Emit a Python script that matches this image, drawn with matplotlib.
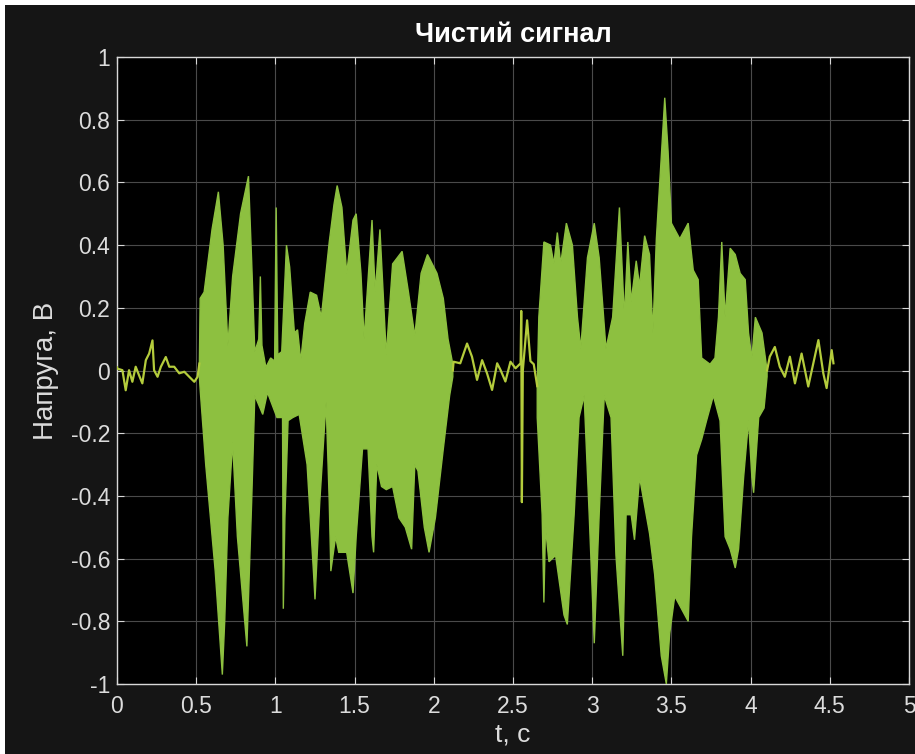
import numpy as np
import matplotlib.pyplot as plt
from matplotlib.patches import Rectangle

plt.rcParams['font.family'] = ['Liberation Sans', 'DejaVu Sans']

# quiet parts of the signal (plain line)
quiet1_t = [0.0, 0.002, 0.034, 0.055, 0.076, 0.097, 0.118, 0.139, 0.160, 0.182, 0.203, 0.224,
            0.234, 0.256, 0.277, 0.308, 0.330, 0.361, 0.393, 0.425, 0.456, 0.488, 0.509, 0.520]
quiet1_v = [0.01, 0.006, 0.001, -0.063, 0.001, -0.036, 0.012, -0.015, -0.041, 0.033, 0.054, 0.096,
            0.001, -0.020, 0.012, 0.043, 0.012, 0.012, -0.009, -0.004, -0.020, -0.036, -0.020, 0.022]

quiet2_t = [2.12, 2.125, 2.167, 2.210, 2.241, 2.273, 2.305, 2.336, 2.368, 2.400, 2.421, 2.452,
            2.484, 2.516, 2.548, 2.552, 2.556, 2.562, 2.589, 2.61, 2.631, 2.653]
quiet2_v = [0.0, 0.028, 0.023, 0.086, 0.044, -0.030, 0.033, -0.009, -0.062, 0.023, 0.002, -0.035,
            0.028, 0.007, 0.023, 0.19, -0.42, 0.0, 0.16, 0.03, 0.02, -0.05]

quiet3_t = [4.104, 4.121, 4.153, 4.184, 4.216, 4.248, 4.280, 4.322, 4.364, 4.396, 4.428, 4.459,
            4.480, 4.512, 4.523]
quiet3_v = [0.0, 0.044, 0.075, 0.012, -0.020, 0.044, -0.041, 0.054, -0.051, 0.023, 0.097, -0.009,
            -0.056, 0.065, 0.023]

# loud parts: upper and lower envelopes
b1_up_t = [0.52, 0.525, 0.55, 0.60, 0.64, 0.67, 0.70, 0.73, 0.78, 0.83, 0.85, 0.87, 0.895, 0.905,
           0.915, 0.94, 0.97, 0.995, 1.005, 1.015, 1.04, 1.07, 1.09, 1.12, 1.14, 1.16, 1.185, 1.22,
           1.26, 1.29, 1.34, 1.37, 1.39, 1.42, 1.45, 1.49, 1.51, 1.54, 1.56, 1.61, 1.63, 1.66, 1.70,
           1.74, 1.80, 1.84, 1.88, 1.92, 1.96, 2.02, 2.06, 2.09, 2.12]
b1_up_v = [0.02, 0.23, 0.25, 0.45, 0.57, 0.40, 0.08, 0.30, 0.50, 0.62, 0.35, 0.06, 0.10, 0.30,
           0.08, 0.01, 0.04, 0.03, 0.52, 0.05, 0.06, 0.40, 0.33, 0.12, 0.13, 0.03, 0.15, 0.25,
           0.24, 0.17, 0.41, 0.53, 0.59, 0.52, 0.31, 0.48, 0.50, 0.31, 0.10, 0.48, 0.25, 0.45, 0.05,
           0.34, 0.38, 0.25, 0.11, 0.31, 0.37, 0.31, 0.23, 0.10, 0.02]
b1_lo_t = [0.52, 0.525, 0.56, 0.62, 0.665, 0.68, 0.70, 0.73, 0.76, 0.82, 0.85, 0.87, 0.92, 0.95,
           1.01, 1.045, 1.05, 1.06, 1.08, 1.11, 1.15, 1.20, 1.24, 1.25, 1.28, 1.32, 1.34, 1.35, 1.38,
           1.40, 1.45, 1.49, 1.51, 1.55, 1.585, 1.61, 1.62, 1.64, 1.67, 1.70, 1.74, 1.78, 1.82, 1.86,
           1.88, 1.90, 1.94, 1.97, 2.01, 2.06, 2.10, 2.12]
b1_lo_v = [-0.02, -0.06, -0.30, -0.64, -0.97, -0.80, -0.47, -0.23, -0.53, -0.88, -0.42, -0.08, -0.14,
           -0.07, -0.15, -0.15, -0.76, -0.47, -0.16, -0.15, -0.14, -0.30, -0.64, -0.73, -0.42, -0.10,
           -0.42, -0.64, -0.53, -0.58, -0.58, -0.71, -0.53, -0.25, -0.25, -0.53, -0.58, -0.30, -0.37,
           -0.38, -0.37, -0.47, -0.50, -0.57, -0.30, -0.32, -0.50, -0.58, -0.47, -0.25, -0.08, -0.02]

b2_up_t = [2.653, 2.663, 2.695, 2.737, 2.758, 2.780, 2.801, 2.837, 2.875, 2.907, 2.928, 2.970,
           3.013, 3.044, 3.087, 3.129, 3.172, 3.203, 3.225, 3.246, 3.278, 3.299, 3.331, 3.362, 3.383,
           3.405, 3.436, 3.458, 3.479, 3.500, 3.553, 3.606, 3.638, 3.669, 3.691, 3.744, 3.775, 3.797,
           3.818, 3.839, 3.871, 3.903, 3.934, 3.966, 3.987, 4.008, 4.030, 4.072, 4.104]
b2_up_v = [-0.05, 0.17, 0.41, 0.40, 0.34, 0.44, 0.34, 0.47, 0.40, 0.17, 0.07, 0.36,
           0.47, 0.36, 0.07, 0.17, 0.52, 0.17, 0.41, 0.22, 0.35, 0.27, 0.43, 0.37, 0.12,
           0.42, 0.68, 0.87, 0.70, 0.47, 0.42, 0.47, 0.32, 0.29, 0.04, 0.02, 0.04, 0.17,
           0.41, 0.17, 0.39, 0.37, 0.31, 0.29, 0.12, 0.04, 0.17, 0.12, 0.0]
b2_lo_t = [2.653, 2.684, 2.695, 2.705, 2.727, 2.769, 2.822, 2.843, 2.886, 2.917, 2.949, 2.981,
           3.013, 3.044, 3.076, 3.119, 3.150, 3.193, 3.214, 3.246, 3.267, 3.299, 3.341, 3.362, 3.394,
           3.436, 3.468, 3.489, 3.521, 3.553, 3.606, 3.627, 3.659, 3.691, 3.722, 3.765, 3.807, 3.839,
           3.871, 3.903, 3.924, 3.956, 3.987, 4.008, 4.019, 4.051, 4.085, 4.104]
b2_lo_v = [-0.15, -0.46, -0.74, -0.50, -0.61, -0.59, -0.78, -0.81, -0.46, -0.15, -0.08, -0.46,
           -0.87, -0.46, -0.08, -0.15, -0.59, -0.91, -0.46, -0.46, -0.54, -0.34, -0.46, -0.52, -0.65,
           -0.91, -1.0, -0.84, -0.72, -0.75, -0.80, -0.53, -0.27, -0.22, -0.16, -0.08, -0.16, -0.53,
           -0.57, -0.63, -0.57, -0.34, -0.16, -0.34, -0.39, -0.15, -0.12, -0.02]

x_ticks = [0, 0.5, 1, 1.5, 2, 2.5, 3, 3.5, 4, 4.5, 5]
x_labels = ['0', '0.5', '1', '1.5', '2', '2.5', '3', '3.5', '4', '4.5', '5']
y_ticks = [-1, -0.8, -0.6, -0.4, -0.2, 0, 0.2, 0.4, 0.6, 0.8, 1]
y_labels = ['-1', '-0.8', '-0.6', '-0.4', '-0.2', '0', '0.2', '0.4', '0.6', '0.8', '1']

fill_col = '#8dc040'
line_col = '#b4cc3c'
txt_col = '#dcdcdc'

fig = plt.figure(figsize=(9.15, 7.54), dpi=100, facecolor='white')
fig.patches.append(Rectangle((5 / 915, 0), 1, 1 - 5 / 754, transform=fig.transFigure,
                             facecolor='#151515', edgecolor='none', zorder=-10))
ax = fig.add_axes([117 / 915, 1 - 684 / 754, (909 - 117) / 915, (684 - 57) / 754])
ax.set_facecolor('black')

for up_t, up_v, lo_t, lo_v in [(b1_up_t, b1_up_v, b1_lo_t, b1_lo_v),
                               (b2_up_t, b2_up_v, b2_lo_t, b2_lo_v)]:
    xs = np.concatenate([up_t, lo_t[::-1]])
    ys = np.concatenate([up_v, lo_v[::-1]])
    ax.fill(xs, ys, facecolor=fill_col, edgecolor=fill_col, lw=1.0, zorder=3)

for t, v in [(quiet1_t, quiet1_v), (quiet2_t, quiet2_v), (quiet3_t, quiet3_v)]:
    ax.plot(t, v, color=line_col, lw=1.6, zorder=4)

ax.set_xlim(0, 5)
ax.set_ylim(-1, 1)
ax.set_xticks(x_ticks, x_labels)
ax.set_yticks(y_ticks, y_labels)
ax.grid(True, color='#4a4a4a', lw=0.8)
ax.set_axisbelow(True)
ax.tick_params(direction='in', top=True, right=True, length=5, color='#d8d8d8',
               labelcolor=txt_col, labelsize=16.5)
ax.tick_params(axis='x', pad=8)
ax.tick_params(axis='y', pad=5)
for s in ax.spines.values():
    s.set_color('#d8d8d8')
    s.set_linewidth(1.0)

ax.set_title('Чистий сигнал', color='white', fontsize=19.5, fontweight='bold', pad=11)
ax.set_xlabel('t, с', color=txt_col, fontsize=19, labelpad=3)
ax.set_ylabel('Напруга, В', color=txt_col, fontsize=20, labelpad=8)

fig.savefig('out.png', dpi=100, facecolor=fig.get_facecolor())
